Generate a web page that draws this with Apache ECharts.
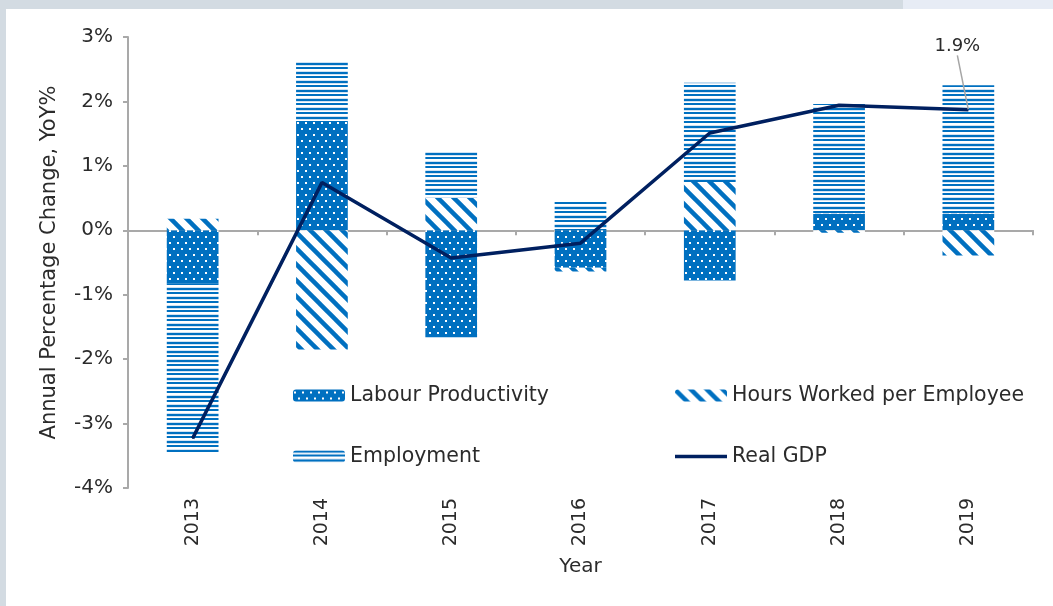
<!DOCTYPE html>
<html>
<head>
<meta charset="utf-8">
<script src="https://cdn.jsdelivr.net/npm/echarts@6/dist/echarts.min.js"></script>
<style>
  html, body { margin: 0; padding: 0; background: #ffffff; }
  #chart { width: 1053px; height: 606px; }
</style>
</head>
<body>
<div id="chart"></div>
<script>
// Contributions to real GDP growth, annual % change
const years = ['2013', '2014', '2015', '2016', '2017', '2018', '2019'];
const labourProductivity = [-0.83, 1.68, -1.66, -0.58, -0.78, 0.26, 0.26];
const hoursPerEmployee   = [0.18, -1.85, 0.50, -0.06, 0.75, -0.04, -0.39];
const employment         = [-2.61, 0.94, 0.73, 0.44, 1.54, 1.70, 1.99];
const realGDP            = [-3.23, 0.74, -0.43, -0.20, 1.51, 1.94, 1.87];
const yTicks = { min: -4, max: 3, step: 1 };

const BLUE = '#0070C0';
const NAVY = '#002060';
const AXIS = '#A9A9A9';
const TEXT = '#2b2b2b';
const FONT = '"DejaVu Sans", "Noto Sans", sans-serif';

// Fill patterns for the stacked bars
function makeTile(w, h, draw) {
  const c = document.createElement('canvas');
  c.width = w; c.height = h;
  draw(c.getContext('2d'), w, h);
  return { image: c, repeat: 'repeat' };
}
const dotPattern = makeTile(8, 12, (g, w, h) => {
  g.fillStyle = BLUE; g.fillRect(0, 0, w, h);
  g.fillStyle = '#ffffff';
  g.fillRect(1, 2, 2, 2);
  g.fillRect(5, 8, 2, 2);
});
const diagPattern = makeTile(16, 16, (g, w, h) => {
  g.fillStyle = '#ffffff'; g.fillRect(0, 0, w, h);
  g.strokeStyle = BLUE; g.lineWidth = 4.5;
  for (let x = -16; x <= 16; x += 16) {
    g.beginPath(); g.moveTo(x - 2, -2); g.lineTo(x + 18, 18); g.stroke();
  }
});
const stripePattern = makeTile(4, 9, (g, w, h) => {
  g.fillStyle = '#ffffff'; g.fillRect(0, 0, w, h);
  g.fillStyle = BLUE;
  g.fillRect(0, 0, w, 2);
  g.fillRect(0, 4, w, 2);
  g.fillStyle = '#cfe2f3';
  g.fillRect(0, 2, w, 1);
  g.fillRect(0, 8, w, 1);
});

// Plain line glyph for the Real GDP legend entry
const lineIcon = 'path://M0,0 L52,0 L52,3.5 L0,3.5 Z';

const chart = echarts.init(document.getElementById('chart'), null, { renderer: 'canvas' });

function barSeries(name, data, pattern) {
  return {
    name, type: 'bar', stack: 'parts', xAxisIndex: 0,
    barWidth: '40%',
    data,
    itemStyle: { color: pattern },
    emphasis: { disabled: true },
    z: 2
  };
}

const legendText = { fontSize: 20.5, color: TEXT, fontFamily: FONT, lineHeight: 20 };

chart.setOption({
  animation: false,
  backgroundColor: '#ffffff',
  textStyle: { fontFamily: FONT, color: TEXT },
  graphic: [
    { type: 'rect', shape: { x: 0, y: 0, width: 903, height: 9 }, style: { fill: '#D3DBE2' }, silent: true },
    { type: 'rect', shape: { x: 903, y: 0, width: 150, height: 9 }, style: { fill: '#E7ECF5' }, silent: true },
    { type: 'rect', shape: { x: 0, y: 0, width: 6, height: 606 }, style: { fill: '#D3DBE2' }, silent: true }
  ],
  grid: { left: 128, right: 20, top: 37, bottom: 118, containLabel: false },
  legend: [
    {
      data: ['Labour Productivity', 'Employment'],
      orient: 'vertical', left: 288, top: 380,
      itemWidth: 52, itemHeight: 12, itemGap: 40,
      textStyle: legendText,
      selectedMode: false
    },
    {
      data: ['Hours Worked per Employee', { name: 'Real GDP', icon: lineIcon }],
      orient: 'vertical', left: 670, top: 380,
      itemWidth: 52, itemHeight: 12, itemGap: 40,
      textStyle: legendText,
      selectedMode: false
    }
  ],
  xAxis: [
    {
      type: 'category', data: years,
      axisLine: { onZero: true, lineStyle: { color: AXIS, width: 2 } },
      axisTick: { show: true, length: 5, lineStyle: { color: AXIS, width: 2 } },
      axisLabel: { show: false },
      splitLine: { show: false }
    },
    {
      type: 'category', data: years, position: 'bottom',
      axisLine: { show: false }, axisTick: { show: false },
      axisLabel: { rotate: 90, fontSize: 19, color: TEXT, margin: 10, fontFamily: FONT },
      name: 'Year', nameLocation: 'middle', nameGap: 69,
      nameTextStyle: { fontSize: 20, color: TEXT, fontFamily: FONT }
    }
  ],
  yAxis: {
    type: 'value', min: yTicks.min, max: yTicks.max, interval: yTicks.step,
    axisLine: { show: true, lineStyle: { color: AXIS, width: 2 } },
    axisTick: { show: true, length: 5, lineStyle: { color: AXIS, width: 2 } },
    splitLine: { show: false },
    axisLabel: { formatter: '{value}%', fontSize: 20, color: TEXT, margin: 15, fontFamily: FONT },
    name: 'Annual Percentage Change, YoY%', nameLocation: 'middle', nameGap: 68,
    nameTextStyle: { fontSize: 21, color: TEXT, fontFamily: FONT }
  },
  series: [
    barSeries('Labour Productivity', labourProductivity, dotPattern),
    barSeries('Hours Worked per Employee', hoursPerEmployee, diagPattern),
    barSeries('Employment', employment, stripePattern),
    {
      name: 'Real GDP', type: 'line', xAxisIndex: 0,
      symbol: 'circle', symbolSize: 1, showSymbol: true, z: 5,
      lineStyle: { color: NAVY, width: 3.5 },
      itemStyle: { color: NAVY },
      data: realGDP.map((v, i) => i === realGDP.length - 1
        ? {
            value: v,
            label: {
              show: true, position: 'top', fontSize: 18, color: TEXT, fontFamily: FONT,
              formatter: p => p.value.toFixed(1) + '%'
            },
            labelLine: { show: true, lineStyle: { color: '#A6A6A6', width: 1.5 } }
          }
        : v),
      labelLayout: { dx: -11, dy: -49 },
      emphasis: { disabled: true }
    }
  ]
});
</script>
</body>
</html>
